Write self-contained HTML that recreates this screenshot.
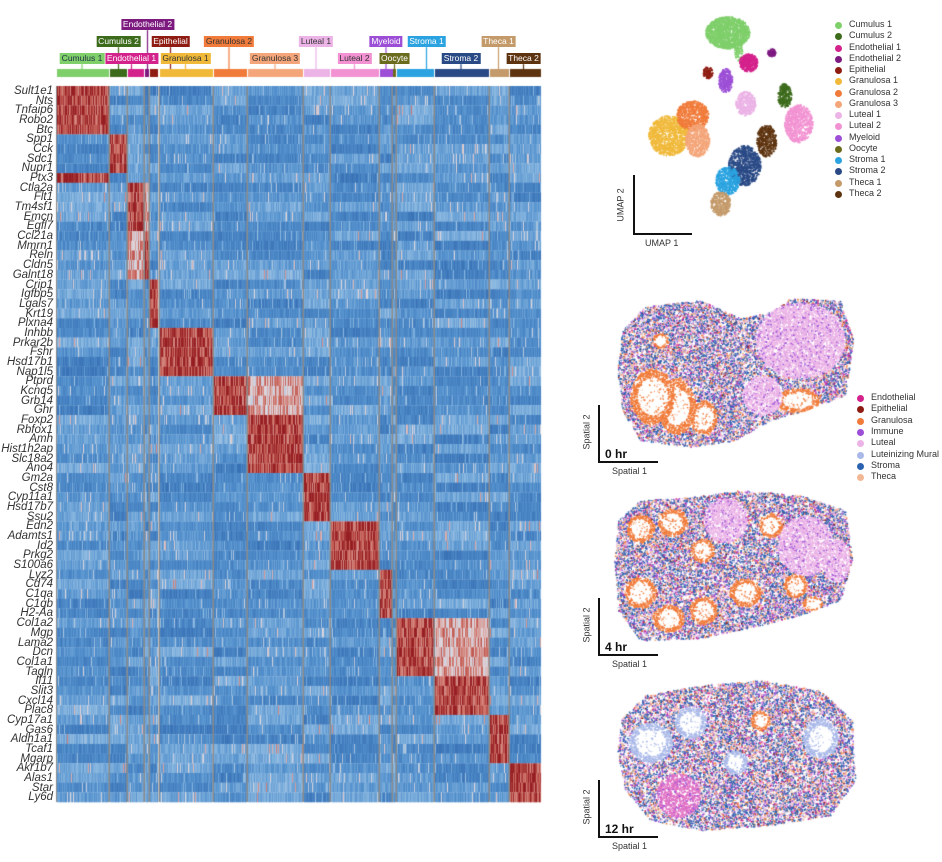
<!DOCTYPE html>
<html><head><meta charset="utf-8"><style>
body{margin:0;background:#fff;width:942px;height:862px;overflow:hidden;position:relative;font-family:"Liberation Sans",sans-serif}
.g{position:absolute;right:889px;font-style:italic;font-size:11.5px;color:#333;line-height:10px;white-space:nowrap}
.lb{position:absolute;font-size:8.5px;line-height:11px;height:11px;padding:0 2px;white-space:nowrap;color:#fff;text-align:center;transform:translateX(-50%)}
.lg{position:absolute;font-size:9px;color:#333;white-space:nowrap}
.dot{position:absolute;width:7px;height:7px;border-radius:50%}
.ax{position:absolute;background:#111}
.t{position:absolute;font-size:9px;color:#333;white-space:nowrap}
</style></head><body>
<canvas id="c" width="942" height="862" style="position:absolute;left:0;top:0"></canvas>
<div id="txt"></div>
<script>
(function(){
const cv=document.getElementById('c'),ctx=cv.getContext('2d');
let s=12345;function R(){s=(s*16807)%2147483647;return (s-1)/2147483646;}
const C=[
["Cumulus 1",57,108,"#7fcf6b",2,60,104,"#234"],
["Cumulus 2",110,126,"#3d6b1c",1,96,141,"#fff"],
["Endothelial 1",128,143,"#d4228c",2,106,157,"#fff"],
["Endothelial 2",145,148,"#7d1a80",0,121,174,"#fff"],
["Epithelial",150,157,"#8e1c12",1,152,189,"#fff"],
["Granulosa 1",160,212,"#f0b93a",2,160,211,"#333"],
["Granulosa 2",214,246,"#f07b3a",1,204,254,"#333"],
["Granulosa 3",248,302,"#f4a67a",2,249,301,"#333"],
["Luteal 1",304,329,"#ebb3e6",1,299,333,"#333"],
["Luteal 2",331,378,"#f292d2",2,337,372,"#333"],
["Myeloid",380,392,"#9c4fd6",1,369,403,"#fff"],
["Oocyte",393,395,"#6b6b1e",2,378,411,"#fff"],
["Stroma 1",397,433,"#2aa3e0",1,408,445,"#fff"],
["Stroma 2",435,488,"#2a4a86",2,441,481,"#fff"],
["Theca 1",490,508,"#c49a6a",1,481,516,"#fff"],
["Theca 2",510,540,"#5e3410",2,507,540,"#fff"]];
const genes="Sult1e1 Nts Tnfaip6 Robo2 Btc Spp1 Cck Sdc1 Nupr1 Ptx3 Ctla2a Flt1 Tm4sf1 Emcn Egfl7 Ccl21a Mmrn1 Reln Cldn5 Galnt18 Crip1 Igfbp5 Lgals7 Krt19 Plxna4 Inhbb Prkar2b Fshr Hsd17b1 Nap1l5 Ptprd Kcnq5 Grb14 Ghr Foxp2 Rbfox1 Amh Hist1h2ap Slc18a2 Ano4 Gm2a Cst8 Cyp11a1 Hsd17b7 Ssu2 Edn2 Adamts1 Id2 Prkg2 S100a6 Lyz2 Cd74 C1qa C1qb H2-Aa Col1a2 Mgp Lama2 Dcn Col1a1 Tagln Il11 Slit3 Cxcl14 Plac8 Cyp17a1 Gas6 Aldh1a1 Tcaf1 Mgarp Akr1b7 Alas1 Star Ly6d".split(" ");
function hi(g){if(g<5)return[0];if(g<9)return[1];if(g<10)return[0];if(g<15)return[2,3];if(g<20)return[3,2];if(g<25)return[4];if(g<30)return[5];if(g<34)return[6,7];if(g<40)return[7];if(g<45)return[8];if(g<50)return[9];if(g<55)return[10];if(g<61)return[12,13];if(g<65)return[13];if(g<70)return[14];return[15];}
function col(v){const st=[[-1,[38,92,165]],[-0.3,[84,145,205]],[0.1,[140,185,225]],[0.4,[225,215,220]],[0.7,[205,110,100]],[1,[150,30,35]]];
 v=Math.max(-1,Math.min(1,v));for(let i=1;i<st.length;i++){if(v<=st[i][0]){const a=st[i-1],b=st[i],t=(v-a[0])/(b[0]-a[0]);return "rgb("+a[1].map((x,k)=>Math.round(x+(b[1][k]-x)*t)).join(",")+")";}}return "rgb(150,30,35)";}
const T0=86,bot=802,rh=(bot-T0)/74;
const base=genes.map(()=>C.map(()=>-0.55+R()*0.55));
for(let g=0;g<74;g++){const H=hi(g);
 C.forEach((c,ci)=>{const b=base[g][ci];const isH=H.indexOf(ci)>=0;const pri=H[0]===ci;
  for(let x=c[1];x<=c[2];x++){let v=isH?(pri?0.85:0.55)+(R()-0.5)*0.5:b+(R()-0.5)*0.35+(R()<0.06?0.5:0);
   ctx.fillStyle=col(v);ctx.fillRect(x,T0+g*rh,1.05,rh+0.3);}});}
ctx.fillStyle="#8a8a8a";C.forEach((c,i)=>{if(i>0)ctx.fillRect(c[1]-1.5,T0,1.5,bot-T0);});
ctx.fillRect(56,T0,1,bot-T0);
const tx=document.getElementById('txt');let h="";
const ly=[19,36,53];
C.forEach(c=>{ctx.fillStyle=c[3];ctx.fillRect(c[1],69,c[2]-c[1]+1,8);
 const cx=(c[5]+c[6])/2;ctx.fillRect(cx-0.6,ly[c[4]]+11,1.2,69-ly[c[4]]-11);
 h+='<div class="lb" style="left:'+cx+'px;top:'+ly[c[4]]+'px;background:'+c[3]+';color:'+c[7]+'">'+c[0]+'</div>';});
genes.forEach((g,i)=>{h+='<div class="g" style="top:'+(T0+i*rh)+'px">'+g+'</div>';});
function blob(cx,cy,rx,ry,color,n){ctx.fillStyle=color;for(let i=0;i<n;i++){const a=R()*6.283,r=Math.sqrt(R());ctx.fillRect(cx+Math.cos(a)*r*rx,cy+Math.sin(a)*r*ry,1.6,1.6);}}
blob(727,32,22,16,"#7fcf6b",1500);blob(738,50,4,10,"#7fcf6b",80);
blob(748,62,9,9,"#d4228c",400);blob(771,52,4,4,"#7d1a80",80);
blob(707,72,5,6,"#8e1c12",100);blob(725,80,7,12,"#9c4fd6",300);
blob(745,103,10,12,"#ebb3e6",400);blob(784,95,7,12,"#3d6b1c",300);
blob(798,123,14,19,"#f292d2",700);blob(668,135,20,20,"#f0b93a",1100);
blob(692,115,16,15,"#f07b3a",700);blob(697,140,12,16,"#f4a67a",600);
blob(766,140,10,16,"#5e3410",450);blob(744,165,16,20,"#2a4a86",900);
blob(727,180,12,14,"#2aa3e0",500);blob(720,203,10,12,"#c49a6a",350);
C.forEach((c,i)=>{h+='<div class="dot" style="left:835px;top:'+(22+i*11.25)+'px;background:'+c[3]+'"></div><div class="lg" style="left:849px;top:'+(19+i*11.25)+'px">'+c[0]+'</div>';});
h+='<div class="ax" style="left:633px;top:175px;width:2px;height:60px"></div><div class="ax" style="left:633px;top:233px;width:59px;height:2px"></div>'+
'<div class="t" style="left:604px;top:200px;transform:rotate(-90deg)">UMAP 2</div><div class="t" style="left:645px;top:238px">UMAP 1</div>';
const SP=[["#d4228c",.06],["#8e1c12",.02],["#f07b3a",.08],["#9c4fd6",.12],["#ebb3e6",.17],["#2a62b0",.38],["#f2b896",.17]];
function pick(){let r=R();for(const p of SP){if((r-=p[1])<0)return p[0];}return "#2a62b0";}
function inPoly(x,y,P){let c=false;for(let i=0,j=P.length-1;i<P.length;j=i++){if(((P[i][1]>y)!=(P[j][1]>y))&&(x<(P[j][0]-P[i][0])*(y-P[i][1])/(P[j][1]-P[i][1])+P[i][0]))c=!c;}return c;}
function section(P,n,feats){let xs=P.map(p=>p[0]),ys=P.map(p=>p[1]);const x0=Math.min.apply(null,xs),x1=Math.max.apply(null,xs),y0=Math.min.apply(null,ys),y1=Math.max.apply(null,ys);
 for(let i=0;i<n;i++){const x=x0+R()*(x1-x0),y=y0+R()*(y1-y0);if(!inPoly(x,y,P))continue;
  let c=null;for(const f of feats){const d=((x-f[0])/f[2])**2+((y-f[1])/f[3])**2;if(d<1){c=f[4]=="fol"?(d<0.45?(R()<0.15?(f[5]||"#f07b3a"):"#fff"):(f[5]||"#f07b3a")):(R()<0.12?"#9c4fd6":f[4]);break;}}
  if(!c)c=R()<0.12?"#fff":pick();ctx.fillStyle=c;ctx.fillRect(x,y,1.5,1.5);}}
section([[622,330],[645,306],[700,300],[740,318],[770,312],[790,298],[840,300],[853,340],[845,395],[805,410],[770,420],[735,440],[690,447],[640,440],[622,410],[617,370]],24000,
 [[800,340,45,38,"#ebb3e6"],[762,395,20,20,"#ebb3e6"],[652,396,22,28,"fol"],[676,406,19,28,"fol"],[703,417,14,17,"fol"],[797,400,22,12,"fol"],[660,340,8,8,"fol"]]);
section([[618,520],[640,500],[690,497],[740,490],[800,495],[845,510],[852,560],[840,600],[800,615],[760,625],[700,638],[640,640],[618,610],[614,560]],24000,
 [[725,520,22,22,"#ebb3e6"],[805,545,28,30,"#ebb3e6"],[836,560,14,22,"#ebb3e6"],[640,528,14,14,"fol"],[672,522,15,14,"fol"],[702,550,12,12,"fol"],[640,592,16,16,"fol"],[668,618,16,14,"fol"],[703,610,14,14,"fol"],[745,592,16,14,"fol"],[770,525,12,12,"fol"],[795,585,12,12,"fol"],[812,603,10,8,"fol"]]);
section([[620,720],[645,695],[700,685],[760,680],[820,690],[852,720],[855,780],[830,815],[770,825],[700,830],[650,820],[625,790],[617,750]],22000,
 [[678,795,22,22,"#e070c4"],[650,742,22,20,"fol","#a9b8e8"],[690,722,16,16,"fol","#a9b8e8"],[820,738,18,20,"fol","#a9b8e8"],[735,762,12,12,"fol","#a9b8e8"],[760,720,10,10,"fol","#f07b3a"]]);
const SL=["Endothelial","Epithelial","Granulosa","Immune","Luteal","Luteinizing Mural","Stroma","Theca"],SC=["#d4228c","#8e1c12","#f07b3a","#9c4fd6","#ebb3e6","#a9b8e8","#2a62b0","#f2b896"];
SL.forEach((l,i)=>{h+='<div class="dot" style="left:857px;top:'+(395+i*11.3)+'px;background:'+SC[i]+'"></div><div class="lg" style="left:871px;top:'+(392+i*11.3)+'px">'+l+'</div>';});
[[405,"0 hr"],[598,"4 hr"],[780,"12 hr"]].forEach(a=>{const y=a[0];
 h+='<div class="ax" style="left:598px;top:'+y+'px;width:2px;height:58px"></div><div class="ax" style="left:598px;top:'+(y+56)+'px;width:60px;height:2px"></div>'+
 '<div class="t" style="left:569px;top:'+(y+22)+'px;transform:rotate(-90deg)">Spatial 2</div><div class="t" style="left:612px;top:'+(y+61)+'px">Spatial 1</div>'+
 '<div class="t" style="left:605px;top:'+(y+42)+'px;font-weight:bold;font-size:12px;color:#111">'+a[1]+'</div>';});
tx.innerHTML=h;
})();
</script>
</body></html>
